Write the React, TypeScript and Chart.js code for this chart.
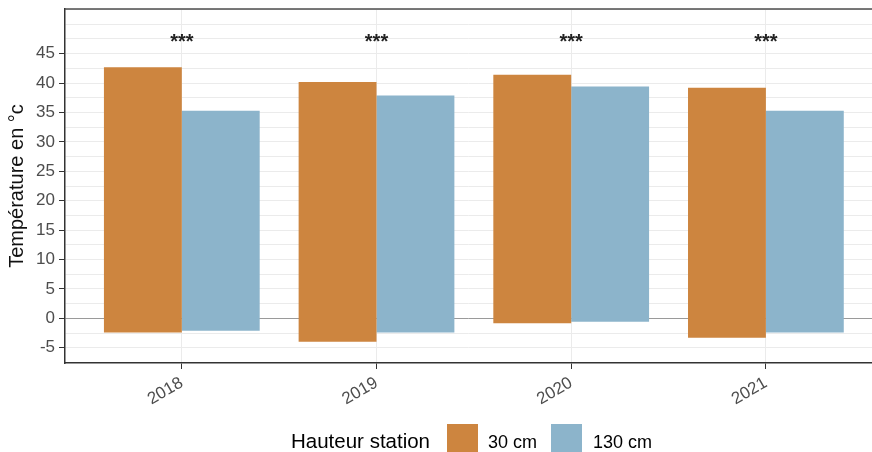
import { useEffect, useRef } from 'react';
import { Chart, registerables } from 'chart.js';

Chart.register(...registerables);

const categories = ['2018', '2019', '2020', '2021'];
const seriesLabels = ['30 cm', '130 cm'];
const min30 = [-2.4, -4.0, -0.85, -3.3];
const max30 = [42.7, 40.2, 41.4, 39.2];
const min130 = [-2.1, -2.4, -0.6, -2.4];
const max130 = [35.3, 37.9, 39.4, 35.3];
const sigLabels = ['***', '***', '***', '***'];
const sigY = [47.5, 47.5, 47.5, 47.5];
const yTickValues = [-5, 0, 5, 10, 15, 20, 25, 30, 35, 40, 45];
const yGridValues = [-7.5, -5, -2.5, 0, 2.5, 5, 7.5, 10, 12.5, 15, 17.5, 20, 22.5, 25, 27.5, 30, 32.5, 35, 37.5, 40, 42.5, 45, 47.5, 50, 52.5];
const legendTitle = 'Hauteur station';
const yTitle = 'Température en °c';

const COLORS = ['#CD853F', '#8CB4CB'];
const FONT = "'Liberation Sans', Arial, sans-serif";

const overlayPlugin = {
  id: 'overlay',
  afterDatasetsDraw(chart: any) {
    const ctx = chart.ctx;
    const xs = chart.scales.x;
    const ys = chart.scales.y;
    ctx.save();
    ctx.fillStyle = '#222222';
    ctx.font = `bold 20px ${FONT}`;
    ctx.textAlign = 'center';
    ctx.textBaseline = 'alphabetic';
    sigLabels.forEach((lab, i) => {
      const x = xs.getPixelForValue(i + 1);
      const y = ys.getPixelForValue(sigY[i]) + 9;
      ctx.fillText(lab, x, y);
    });
    ctx.restore();
  },
  afterDraw(chart: any) {
    const ctx = chart.ctx;
    const a = chart.chartArea;
    ctx.save();
    ctx.strokeStyle = '#4d4d4d';
    ctx.lineWidth = 1.5;
    ctx.beginPath();
    ctx.moveTo(a.left, a.top);
    ctx.lineTo(a.right, a.top);
    ctx.stroke();

    // legend
    const baseY = 448;
    ctx.textBaseline = 'alphabetic';
    ctx.textAlign = 'left';
    ctx.fillStyle = '#000000';
    ctx.font = `20.5px ${FONT}`;
    ctx.fillText(legendTitle, 291, baseY);
    const swatchX = [447, 551];
    const textX = [488, 593];
    ctx.font = `18px ${FONT}`;
    seriesLabels.forEach((lab, i) => {
      ctx.fillStyle = COLORS[i];
      ctx.fillRect(swatchX[i], 424, 31, 31);
      ctx.fillStyle = '#000000';
      ctx.fillText(lab, textX[i], baseY);
    });
    ctx.restore();
  },
};

export default function App() {
  const ref = useRef<HTMLCanvasElement | null>(null);
  useEffect(() => {
    if (!ref.current) return;
    Chart.defaults.font.family = FONT;
    const chart = new Chart(ref.current, {
      type: 'bar',
      data: {
        datasets: [
          {
            label: seriesLabels[0],
            data: categories.map((_, i) => ({ x: i + 1, y: [min30[i], max30[i]] })) as any,
            backgroundColor: COLORS[0],
            borderWidth: 0,
            categoryPercentage: 0.8,
            barPercentage: 1.0,
          },
          {
            label: seriesLabels[1],
            data: categories.map((_, i) => ({ x: i + 1, y: [min130[i], max130[i]] })) as any,
            backgroundColor: COLORS[1],
            borderWidth: 0,
            categoryPercentage: 0.8,
            barPercentage: 1.0,
          },
        ],
      },
      options: {
        responsive: false,
        animation: false,
        layout: { padding: { top: 9, left: 0, right: 0, bottom: 0 } },
        plugins: {
          legend: { display: false },
          tooltip: { enabled: false },
        },
        scales: {
          x: {
            type: 'linear',
            min: 0.4,
            max: 4.545,
            offset: false,
            afterBuildTicks: (s: any) => {
              s.ticks = categories.map((_, i) => ({ value: i + 1 }));
            },
            afterFit: (s: any) => {
              s.height = 89;
              s.paddingLeft = 0;
              s.paddingRight = 0;
            },
            ticks: {
              autoSkip: false,
              minRotation: 30,
              maxRotation: 30,
              padding: 4,
              color: '#4D4D4D',
              font: { size: 17, family: FONT },
              callback: (v: any) => categories[Number(v) - 1] ?? '',
            },
            grid: {
              offset: false,
              color: '#EBEBEB',
              lineWidth: 1,
              tickColor: '#333333',
              tickLength: 6,
            },
            border: { display: true, color: '#333333', width: 1.5 },
          },
          y: {
            type: 'linear',
            min: -7.6,
            max: 52.6,
            afterBuildTicks: (s: any) => {
              s.ticks = yGridValues.map((v) => ({ value: v }));
            },
            afterFit: (s: any) => {
              s.width = 65;
              s.paddingTop = 0;
              s.paddingBottom = 0;
            },
            ticks: {
              autoSkip: false,
              padding: 4,
              color: '#4D4D4D',
              font: { size: 17, family: FONT },
              callback: (v: any) => (yTickValues.includes(Number(v)) ? String(v) : ''),
            },
            grid: {
              color: (c: any) => (c.tick && c.tick.value === 0 ? '#9a9a9a' : '#EBEBEB'),
              lineWidth: 1,
              tickColor: (c: any) => (c.tick && yTickValues.includes(c.tick.value) ? '#333333' : 'rgba(0,0,0,0)'),
              tickLength: 6,
            },
            border: { display: true, color: '#333333', width: 1.5 },
            title: {
              display: true,
              text: yTitle,
              color: '#111111',
              font: { size: 20, family: FONT },
              padding: { top: 5, bottom: 0 },
            },
          },
        },
      },
      plugins: [overlayPlugin],
    });
    return () => chart.destroy();
  }, []);
  return (
    <div style={{ position: 'absolute', left: 0, top: 0, width: 872, height: 452, background: '#ffffff' }}>
      <canvas ref={ref} width={872} height={452} style={{ display: 'block' }} />
    </div>
  );
}
